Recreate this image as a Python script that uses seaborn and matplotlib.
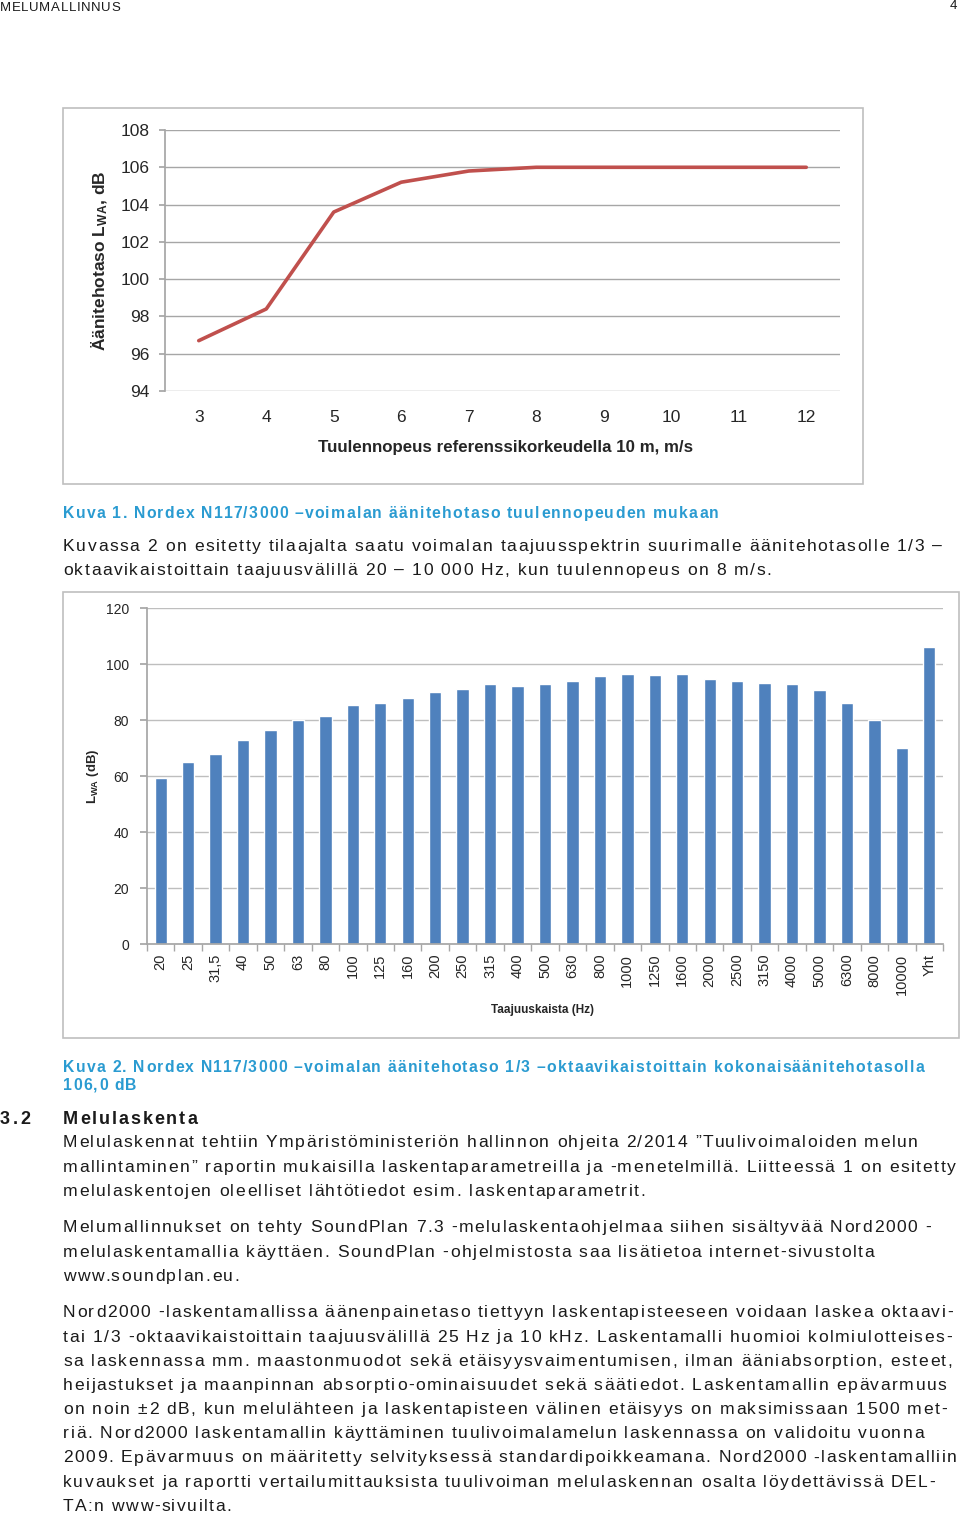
import numpy as np
import pandas as pd
import seaborn as sns
import matplotlib.pyplot as plt
from matplotlib.patches import Rectangle
from matplotlib.font_manager import FontProperties

sns.set_theme(style="white")
plt.rcParams["font.family"] = ["Liberation Sans", "DejaVu Sans"]
plt.rcParams["mathtext.fontset"] = "custom"
plt.rcParams["mathtext.bf"] = "Liberation Sans:bold"
plt.rcParams["mathtext.rm"] = "Liberation Sans"

# chart 1: sound power level vs wind speed
wind_speed = [3, 4, 5, 6, 7, 8, 9, 10, 11, 12]
lwa_level = [96.7, 98.4, 103.6, 105.2, 105.8, 106.0, 106.0, 106.0, 106.0, 106.0]

# chart 2: 1/3 octave spectrum
bands = ["20", "25", "31,5", "40", "50", "63", "80", "100", "125", "160", "200",
         "250", "315", "400", "500", "630", "800", "1000", "1250", "1600", "2000",
         "2500", "3150", "4000", "5000", "6300", "8000", "10000", "Yht"]
band_level = [59.2, 65.0, 67.8, 72.9, 76.4, 79.9, 81.3, 85.5, 86.2, 87.8, 89.9,
              91.2, 92.8, 92.1, 92.8, 93.9, 95.7, 96.3, 96.2, 96.3, 94.5,
              93.8, 93.3, 92.8, 90.8, 86.2, 80.1, 70.0, 106.0]

W, H = 960, 1514
fig = plt.figure(figsize=(W / 100, H / 100), dpi=100)
renderer = fig.canvas.get_renderer()


def ax_px(x0, y0, x1, y1):
    return fig.add_axes([x0 / W, 1 - y1 / H, (x1 - x0) / W, (y1 - y0) / H])


def box_px(x0, y0, x1, y1):
    fig.patches.append(Rectangle((x0 / W, 1 - y1 / H), (x1 - x0) / W, (y1 - y0) / H,
                                 transform=fig.transFigure, fill=False,
                                 edgecolor="#BFBFBF", linewidth=1.2))


def txt(x, y, s, size=12.6, weight="normal", color="#1a1a1a", track=1.55, ha="left"):
    # the page text is letter-spaced, so place it char by char
    prop = FontProperties(family=["Liberation Sans", "DejaVu Sans"], size=size, weight=weight)
    ref = renderer.get_text_width_height_descent("x", prop, ismath=False)[0]
    xs = [renderer.get_text_width_height_descent(s[:i] + "x", prop, ismath=False)[0] - ref
          + i * track for i in range(len(s))]
    if ha == "right":
        last = renderer.get_text_width_height_descent(s, prop, ismath=False)[0]
        x = x - (xs[-1] + last - xs[-1] if len(s) == 1 else xs[-1] + last / len(s))
    base = y + 0.36 * size * 100 / 72
    for ch, dx in zip(s, xs):
        if ch != " ":
            fig.text((x + dx) / W, 1 - base / H, ch, fontproperties=prop, color=color,
                     va="baseline", ha="left")


# ---- chart 1 ----
box_px(63, 108, 863, 484)
ax1 = ax_px(165, 130, 840, 391)
df1 = pd.DataFrame({"speed": wind_speed, "lwa": lwa_level})
sns.lineplot(data=df1, x="speed", y="lwa", ax=ax1, color="#C0504D", linewidth=2.6)
ax1.set_xlim(2.5, 12.5)
ax1.set_ylim(94, 108)
ax1.set_yticks(range(94, 109, 2))
ax1.set_xticks(wind_speed)
ax1.grid(axis="y", color="#A6A6A6", linewidth=1)
for s in ["top", "right", "bottom"]:
    ax1.spines[s].set_visible(False)
ax1.spines["left"].set_color("#A6A6A6")
ax1.tick_params(axis="y", length=4, color="#A6A6A6", pad=7, labelsize=12.5, left=True)
ax1.tick_params(axis="x", length=0, pad=14, labelsize=12.5)
ax1.set_xlabel("Tuulennopeus referenssikorkeudella 10 m, m/s", fontsize=12.2,
               fontweight="bold")
ax1.set_ylabel(r"Äänitehotaso $\mathbf{L_{WA}}$, dB", fontsize=12.5, fontweight="bold")
ax1.xaxis.set_label_coords(0.504, -0.218)
ax1.xaxis.label.set_va("center")
ax1.yaxis.set_label_coords(-0.096, 0.5)
ax1.yaxis.label.set_va("center")

# ---- chart 2 ----
box_px(63, 592, 959, 1038)
ax2 = ax_px(147, 608, 943, 944)
sns.barplot(x=bands, y=band_level, color="#4F81BD", width=0.45, saturation=1, ax=ax2)
ax2.set_xlim(-0.5, len(bands) - 0.5)
ax2.set_ylim(0, 120)
ax2.set_yticks(range(0, 121, 20))
ax2.grid(axis="y", color="#BEBEBE", linewidth=1)
ax2.set_axisbelow(True)
for s in ["top", "right"]:
    ax2.spines[s].set_visible(False)
ax2.spines["left"].set_color("#A6A6A6")
ax2.spines["bottom"].set_color("#A6A6A6")
ax2.set_xticks(np.arange(-0.5, len(bands), 1), minor=True)
ax2.tick_params(axis="x", which="minor", length=5, color="#A6A6A6", bottom=True)
ax2.tick_params(axis="x", which="major", length=0, pad=7, labelsize=10.5,
                labelrotation=90)
ax2.tick_params(axis="y", length=5, color="#A6A6A6", pad=8, labelsize=10, left=True)
ax2.set_xlabel("Taajuuskaista (Hz)", fontsize=8.5, fontweight="bold")
ax2.set_ylabel(r"$\mathbf{L_{WA}}$ (dB)", fontsize=9.5, fontweight="bold")
ax2.xaxis.set_label_coords(0.497, -0.196)
ax2.xaxis.label.set_va("center")
ax2.yaxis.set_label_coords(-0.068, 0.5)
ax2.yaxis.label.set_va("center")

# ---- page text ----
teal = "#2A9BD1"
txt(0, 6, "MELUMALLINNUS", size=9.5, track=0.6)
fig.text(957 / W, 1 - 6 / H, "4", fontsize=9.5, color="#1a1a1a", ha="right", va="center")
txt(63, 512, "Kuva 1. Nordex N117/3000 –voimalan äänitehotaso tuulennopeuden mukaan",
    size=11.3, weight="bold", color=teal, track=1.25)
txt(63, 545, "Kuvassa 2 on esitetty tilaajalta saatu voimalan taajuusspektrin suurimalle äänitehotasolle 1/3 –")
txt(63, 569, "oktaavikaistoittain taajuusvälillä 20 – 10 000 Hz, kun tuulennopeus on 8 m/s.")
txt(63, 1066, "Kuva 2. Nordex N117/3000 –voimalan äänitehotaso 1/3 –oktaavikaistoittain kokonaisäänitehotasolla",
    size=11.3, weight="bold", color=teal, track=1.22)
txt(63, 1084, "106,0 dB", size=11.3, weight="bold", color=teal, track=1.22)
txt(0, 1117, "3.2", size=13, weight="bold", track=2.5)
txt(63, 1117, "Melulaskenta", size=13, weight="bold", track=1.9)

para2 = ["Melulaskennat tehtiin Ympäristöministeriön hallinnon ohjeita 2/2014 ”Tuulivoimaloiden melun",
         "mallintaminen” raportin mukaisilla laskentaparametreilla ja -menetelmillä. Liitteessä 1 on esitetty",
         "melulaskentojen oleelliset lähtötiedot esim. laskentaparametrit."]
para3 = ["Melumallinnukset on tehty SoundPlan 7.3 -melulaskentaohjelmaa siihen sisältyvää Nord2000 -",
         "melulaskentamallia käyttäen. SoundPlan -ohjelmistosta saa lisätietoa internet-sivustolta",
         "www.soundplan.eu."]
para4 = ["Nord2000 -laskentamallissa äänenpainetaso tiettyyn laskentapisteeseen voidaan laskea oktaavi-",
         "tai 1/3 -oktaavikaistoittain taajuusvälillä 25 Hz ja 10 kHz. Laskentamalli huomioi kolmiulotteises-",
         "sa laskennassa mm. maastonmuodot sekä etäisyysvaimentumisen, ilman ääniabsorption, esteet,",
         "heijastukset ja maanpinnan absorptio-ominaisuudet sekä säätiedot. Laskentamallin epävarmuus",
         "on noin ±2 dB, kun melulähteen ja laskentapisteen välinen etäisyys on maksimissaan 1500 met-",
         "riä. Nord2000 laskentamallin käyttäminen tuulivoimalamelun laskennassa on validoitu vuonna",
         "2009. Epävarmuus on määritetty selvityksessä standardipoikkeamana. Nord2000 -laskentamalliin",
         "kuvaukset ja raportti vertailumittauksista tuulivoiman melulaskennan osalta löydettävissä DEL-",
         "TA:n www-sivuilta."]
for i, line in enumerate(para2):
    txt(63, 1141 + i * 24.4, line)
for i, line in enumerate(para3):
    txt(63, 1226 + i * 24.4, line)
for i, line in enumerate(para4):
    txt(63, 1311 + i * 24.2, line)

fig.savefig("out.png", dpi=100)
